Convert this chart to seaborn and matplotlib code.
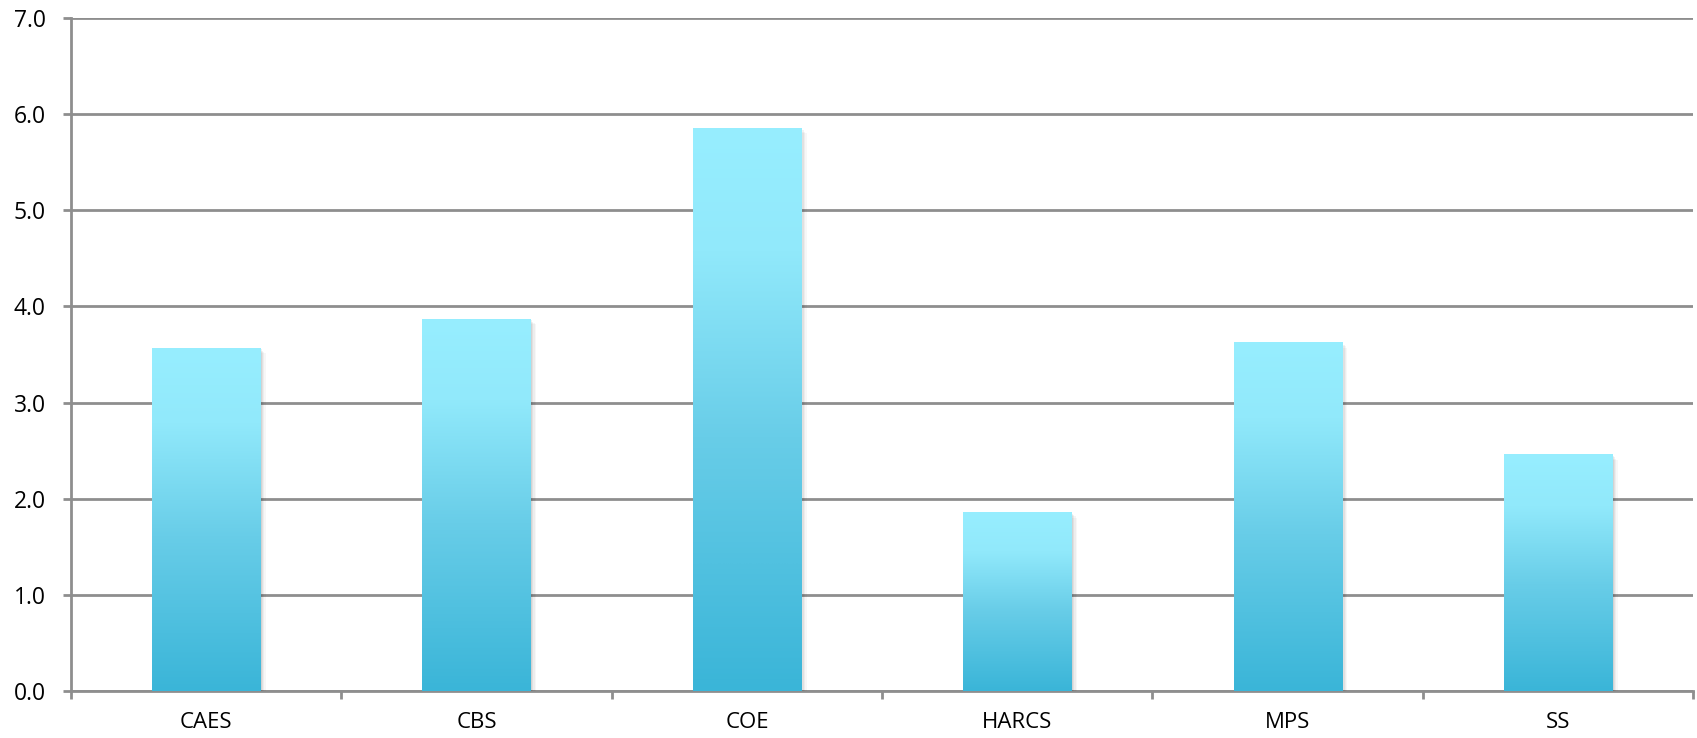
import numpy as np
import pandas as pd
import matplotlib
matplotlib.use("Agg")
import matplotlib.pyplot as plt
import matplotlib.patheffects as pe
from matplotlib.colors import LinearSegmentedColormap
import seaborn as sns

# Storage technologies and their values
categories = ["CAES", "CBS", "COE", "HARCS", "MPS", "SS"]
values = [3.57, 3.87, 5.86, 1.86, 3.63, 2.46]
y_ticks = [0.0, 1.0, 2.0, 3.0, 4.0, 5.0, 6.0, 7.0]

df = pd.DataFrame({"category": categories, "value": values})

sns.set_theme(style="white")
plt.rcParams["font.family"] = ["Open Sans", "DejaVu Sans"]

fig = plt.figure(figsize=(16.97, 7.38), dpi=100)
ax = fig.add_axes([0.0418, 0.0637, 0.956, 0.912])

sns.barplot(data=df, x="category", y="value", color="white", width=0.40,
            ax=ax, zorder=3, linewidth=0, saturation=1)

grid_col = "#8e8e8e"
ax.set_ylim(0, 7)
ax.set_xlim(-0.5, len(categories) - 0.5)
ax.set_yticks(y_ticks)
ax.set_yticklabels([f"{v:.1f}" for v in y_ticks])
ax.yaxis.grid(True, color=grid_col, linewidth=2, zorder=0)
ax.set_axisbelow(True)
ax.set_xlabel("")
ax.set_ylabel("")

for side in ["top", "right"]:
    ax.spines[side].set_visible(False)
for side in ["left", "bottom"]:
    ax.spines[side].set_color(grid_col)
    ax.spines[side].set_linewidth(2)

# category boundary ticks on x, labels centered
ax.set_xticks(np.arange(-0.5, len(categories)), minor=True)
ax.tick_params(axis="x", which="major", length=0, pad=15, labelsize=16, labelcolor="black")
ax.tick_params(axis="x", which="minor", direction="out", length=6, width=2, color=grid_col, bottom=True)
ax.tick_params(axis="y", which="major", direction="out", length=6, width=2, color=grid_col,
               left=True, labelsize=16.5, labelcolor="black", pad=12)

# vertical gradient fill for each bar with a soft shadow
cmap = LinearSegmentedColormap.from_list(
    "bar_grad", [(0.0, "#3ab5d8"), (0.45, "#68cde8"), (0.78, "#91e9fb"), (1.0, "#97eeff")])
grad = np.linspace(0, 1, 256).reshape(-1, 1)
shadow = [pe.SimplePatchShadow(offset=(o, -o), shadow_rgbFace="#000000", alpha=a)
          for o, a in [(4.0, 0.03), (3.0, 0.04), (2.0, 0.05), (1.0, 0.06)]]
for patch in ax.patches:
    x0, y0 = patch.get_x(), patch.get_y()
    w, h = patch.get_width(), patch.get_height()
    patch.set_path_effects(shadow + [pe.Normal()])
    im = ax.imshow(grad, cmap=cmap, origin="lower", aspect="auto",
                   extent=[x0, x0 + w, y0, y0 + h], zorder=4, interpolation="bicubic")
    im.set_clip_path(patch)

ax.set_xlim(-0.5, len(categories) - 0.5)
ax.set_ylim(0, 7)

fig.savefig("out.png", dpi=100)
